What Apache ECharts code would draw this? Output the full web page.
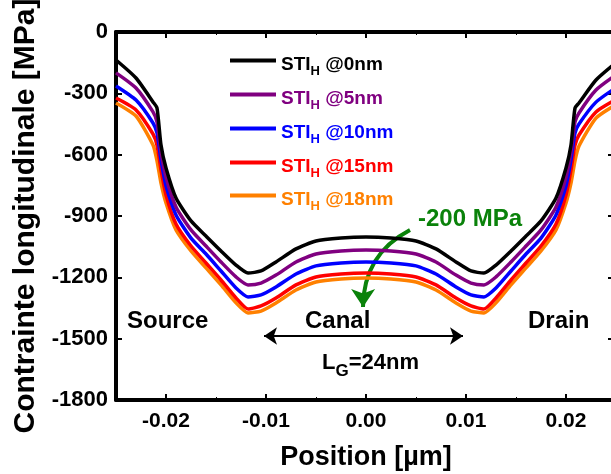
<!DOCTYPE html>
<html>
<head>
<meta charset="utf-8">
<script src="https://cdn.jsdelivr.net/npm/echarts@6/dist/echarts.min.js"></script>
<style>
html,body{margin:0;padding:0;background:#fff;}
#chart{width:611px;height:474px;}
</style>
</head>
<body>
<div id="chart"></div>
<script>
// ---- data ----
const positions = [-0.025,-0.023,-0.0213,-0.0209,-0.0205,-0.020,-0.019,-0.0175,-0.016,-0.0145,-0.013,-0.0118,-0.0105,-0.009,-0.007,-0.005,-0.0025,0,
  0.0025,0.005,0.007,0.009,0.0105,0.0118,0.013,0.0145,0.016,0.0175,0.019,0.020,0.0205,0.0209,0.0213,0.023,0.025];
const sti0nm  = [-137,-225,-342,-372,-553,-665,-812,-924,-998,-1071,-1140,-1179,-1169,-1125,-1061,-1022,-1008,-1003,
  -1008,-1022,-1061,-1125,-1169,-1179,-1140,-1071,-998,-924,-812,-665,-553,-372,-347,-235,-150];
const sti5nm  = [-200,-274,-391,-440,-587,-709,-856,-968,-1047,-1125,-1198,-1237,-1228,-1189,-1125,-1086,-1071,-1066,
  -1071,-1086,-1125,-1189,-1228,-1237,-1198,-1125,-1047,-968,-856,-709,-587,-440,-396,-284,-210];
const sti10nm = [-264,-333,-445,-494,-626,-753,-895,-1008,-1086,-1169,-1252,-1296,-1286,-1247,-1184,-1144,-1130,-1125,
  -1130,-1144,-1184,-1247,-1286,-1296,-1252,-1169,-1086,-1008,-895,-753,-626,-494,-450,-343,-272];
const sti15nm = [-323,-381,-499,-553,-675,-797,-939,-1047,-1130,-1213,-1301,-1355,-1340,-1301,-1237,-1198,-1184,-1179,
  -1184,-1198,-1237,-1301,-1340,-1355,-1301,-1213,-1130,-1047,-939,-797,-675,-553,-504,-391,-330];
const sti18nm = [-347,-411,-553,-630,-739,-836,-968,-1071,-1154,-1237,-1325,-1374,-1365,-1325,-1262,-1223,-1208,-1203,
  -1208,-1223,-1262,-1325,-1365,-1374,-1325,-1237,-1154,-1071,-968,-836,-739,-630,-558,-421,-355];
const seriesLabels = ['@0nm','@5nm','@10nm','@15nm','@18nm'];
const seriesColors = ['#000000','#800080','#0000ff','#ff0000','#ff8000'];
const seriesValues = [sti0nm, sti5nm, sti10nm, sti15nm, sti18nm];
const xTickValues = [-0.02,-0.01,0,0.01,0.02];
const yTicks = {min:-1800, max:0, step:300};
const xRange = {min:-0.025, max:0.025};

const FONT = "'Liberation Sans', Arial, sans-serif";
const GREEN = '#0a820a';
const chart = echarts.init(document.getElementById('chart'), null, {renderer:'canvas'});

const series = [];
for (let i = seriesValues.length - 1; i >= 0; i--) {
  series.push({
    name: seriesLabels[i],
    type: 'line',
    xAxisIndex: 0, yAxisIndex: 0,
    data: positions.map((x, k) => [x, seriesValues[i][k]]),
    showSymbol: false, symbol: 'none',
    smooth: 0.2,
    lineStyle: {color: seriesColors[i], width: 3.5},
    itemStyle: {color: seriesColors[i]},
    silent: true
  });
}
// L_G double arrow (data coordinates)
series[0].markLine = {
  silent: true, animation: false,
  label: {show: false},
  symbol: ['arrow', 'arrow'], symbolSize: 13,
  lineStyle: {color: '#000', width: 2, type: 'solid'},
  data: [[{coord: [-0.0102, -1487]}, {coord: [0.0097, -1487]}]]
};
// curved green arrow (-200 MPa shift)
series.push({
  type: 'lines',
  coordinateSystem: 'cartesian2d',
  xAxisIndex: 0, yAxisIndex: 0,
  silent: true,
  symbol: ['none', 'arrow'],
  symbolSize: 18,
  lineStyle: {color: GREEN, width: 4, opacity: 1, curveness: -0.3},
  data: [{coords: [[0.0044, -968], [-0.0003, -1345]]}]
});

const rowY = [64, 98, 132, 166, 199];
const legends = seriesLabels.map((name, i) => ({
  data: [name],
  left: 230,
  top: rowY[i] - 14,
  padding: 0,
  orient: 'vertical',
  selectedMode: false,
  icon: 'rect',
  itemWidth: 46,
  itemHeight: 4,
  itemStyle: {color: seriesColors[i]},
  formatter: n => '{a|STI}{s|H}{a| ' + n + '}',
  textStyle: {
    color: seriesColors[i],
    rich: {
      a: {fontFamily: FONT, fontSize: 19, fontWeight: 'bold', color: seriesColors[i], lineHeight: 21, padding: [5,0,0,0], verticalAlign: 'top'},
      s: {fontFamily: FONT, fontSize: 13, fontWeight: 'bold', color: seriesColors[i], lineHeight: 13, padding: [15,0,0,0], verticalAlign: 'top'}
    }
  }
}));

const axisLineStyle = {color: '#000', width: 4};
const option = {
  animation: false,
  backgroundColor: '#fff',
  grid: {left: 116, right: -5, top: 32, bottom: 74, containLabel: false, outerBoundsMode: 'none'},
  legend: legends,
  xAxis: [
    {type: 'value', position: 'bottom', min: xRange.min, max: xRange.max,
     name: 'Position [µm]', nameLocation: 'middle', nameGap: 44,
     nameTextStyle: {fontFamily: FONT, fontSize: 27, fontWeight: 'bold', color: '#000'},
     axisLine: {show: true, onZero: false, lineStyle: axisLineStyle},
     axisTick: {show: true, inside: true, length: 6, lineStyle: {color: '#000', width: 2}, customValues: xTickValues},
     axisLabel: {show: true, margin: 11, fontFamily: FONT, fontSize: 21, fontWeight: 'bold', color: '#000',
       customValues: xTickValues, formatter: v => v.toFixed(2)},
     splitLine: {show: false}},
    {type: 'value', position: 'top', min: xRange.min, max: xRange.max,
     axisLine: {show: true, onZero: false, lineStyle: axisLineStyle},
     axisTick: {show: true, inside: true, length: 6, lineStyle: {color: '#000', width: 2}, customValues: xTickValues},
     axisLabel: {show: false}, splitLine: {show: false}},
    {type: 'value', position: 'bottom', min: xRange.min, max: xRange.max, interval: 0.005,
     axisLine: {show: false, onZero: false},
     axisTick: {show: true, inside: true, length: 3, lineStyle: {color: '#000', width: 1}},
     axisLabel: {show: false}, splitLine: {show: false}},
    {type: 'value', position: 'top', min: xRange.min, max: xRange.max, interval: 0.005,
     axisLine: {show: false, onZero: false},
     axisTick: {show: true, inside: true, length: 3, lineStyle: {color: '#000', width: 1}},
     axisLabel: {show: false}, splitLine: {show: false}}
  ],
  yAxis: [
    {type: 'value', position: 'left', min: yTicks.min, max: yTicks.max, interval: yTicks.step,
     name: 'Contrainte longitudinale [MPa]', nameLocation: 'middle', nameGap: 71,
     nameTextStyle: {fontFamily: FONT, fontSize: 30, fontWeight: 'bold', color: '#000'},
     axisLine: {show: true, onZero: false, lineStyle: axisLineStyle},
     axisTick: {show: true, inside: true, length: 6, lineStyle: {color: '#000', width: 2}},
     axisLabel: {show: true, margin: 8, fontFamily: FONT, fontSize: 22, fontWeight: 'bold', color: '#000',
       formatter: v => String(v)},
     splitLine: {show: false}},
    {type: 'value', position: 'right', min: yTicks.min, max: yTicks.max, interval: yTicks.step,
     axisLine: {show: true, onZero: false, lineStyle: axisLineStyle},
     axisTick: {show: true, inside: true, length: 8, lineStyle: {color: '#000', width: 2}},
     axisLabel: {show: false}, splitLine: {show: false}}
  ],
  graphic: [
    {type: 'text', x: 127, y: 321, silent: true,
     style: {text: 'Source', font: 'bold 24px ' + FONT, fill: '#000', verticalAlign: 'middle', textVerticalAlign: 'middle'}},
    {type: 'text', x: 305, y: 321, silent: true,
     style: {text: 'Canal', font: 'bold 24px ' + FONT, fill: '#000', verticalAlign: 'middle', textVerticalAlign: 'middle'}},
    {type: 'text', x: 528, y: 321, silent: true,
     style: {text: 'Drain', font: 'bold 24px ' + FONT, fill: '#000', verticalAlign: 'middle', textVerticalAlign: 'middle'}},
    {type: 'text', x: 418, y: 219, silent: true,
     style: {text: '-200 MPa', font: 'bold 24px ' + FONT, fill: GREEN, verticalAlign: 'middle', textVerticalAlign: 'middle'}},
    {type: 'text', x: 322, y: 352, silent: true,
     style: {text: '{a|L}{s|G}{a|=24nm}', fill: '#000',
       rich: {
         a: {font: 'bold 22px ' + FONT, fill: '#000', lineHeight: 24, verticalAlign: 'top', padding: [0,0,0,0]},
         s: {font: 'bold 17px ' + FONT, fill: '#000', lineHeight: 17, verticalAlign: 'top', padding: [11,0,0,0]}
       }}}
  ],
  series: series
};
chart.setOption(option);
</script>
</body>
</html>
